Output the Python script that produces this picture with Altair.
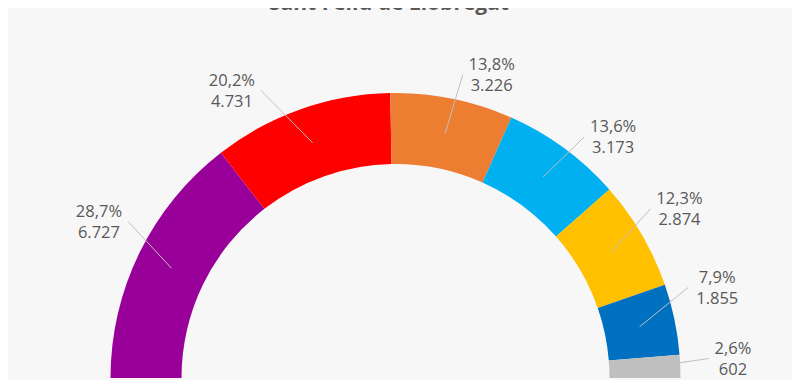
import math
import altair as alt
import pandas as pd

# ---- data -------------------------------------------------------------
parties = ["ECP", "PSC", "Cs", "JxCat", "ERC", "PP", "Altres"]
votes = [6727, 4731, 3226, 3173, 2874, 1855, 602]
percent = [28.7, 20.2, 13.8, 13.6, 12.3, 7.9, 2.6]
colors = ["#990099", "#FF0000", "#ED7D31", "#00B0F0", "#FFC000", "#0070C0", "#BFBFBF"]
title_text = "Sant Feliu de Llobregat"

# ---- label placement (Excel-style moved labels) ------------------------
label_nudge_deg = [1.6, -10.3, 6.2, 5.9, -0.4, -3.7, -0.8]
label_radius = [335, 330, 317, 324, 330, 334, 338]

# ---- layout ------------------------------------------------------------
W, H = 784, 372
CX, CY = 387.5, 370.0          # arc centre in chart pixels
R_OUT, R_IN = 285, 214
R_MID = (R_OUT + R_IN) / 2
LINE_H = 21

total = sum(votes)
rows = []
cum = 0
for i, (p, v, pc) in enumerate(zip(parties, votes, percent)):
    mid = cum + v / 2
    cum += v
    phi = math.radians(mid / total * 180 + label_nudge_deg[i])
    phi_mid = math.radians(mid / total * 180)
    lx = -math.cos(phi) * label_radius[i]
    ly = math.sin(phi) * label_radius[i]
    pct_s = f"{pc:.1f}".replace(".", ",") + "%"
    vot_s = f"{v:,}".replace(",", ".")
    half = 0.5 * max(len(pct_s), len(vot_s)) * 9.6 + 5
    ex = lx - half if lx > 0 else lx + half
    rows.append(dict(
        party=p, votes=v, idx=i,
        label=pct_s + "\n" + vot_s,
        lx=lx, ly=ly, ty=ly + LINE_H / 2,
        ix=-math.cos(phi_mid) * R_MID, iy=math.sin(phi_mid) * R_MID,
        ex=ex, ey=ly + 1,
    ))
df = pd.DataFrame(rows)

xs = alt.Scale(domain=[-CX, W - CX], nice=False, zero=False)
ys = alt.Scale(domain=[CY - H, CY], nice=False, zero=False)

arcs = alt.Chart(df).mark_arc(radius=R_OUT, radius2=R_IN, stroke=None).encode(
    theta=alt.Theta("votes:Q", stack=True,
                    scale=alt.Scale(domain=[0, total], range=[-math.pi / 2, math.pi / 2])),
    color=alt.Color("party:N", scale=alt.Scale(domain=parties, range=colors), legend=None),
    order=alt.Order("idx:Q"),
    x=alt.value(CX),
    y=alt.value(CY),
)

leaders = alt.Chart(df).mark_rule(color="#BFBFBF", strokeWidth=1).encode(
    x=alt.X("ix:Q", scale=xs, axis=None),
    y=alt.Y("iy:Q", scale=ys, axis=None),
    x2="ex:Q",
    y2="ey:Q",
)

labels = alt.Chart(df).mark_text(
    font="Open Sans", fontSize=16.5, color="#595959", lineBreak="\n",
    lineHeight=LINE_H, align="center", baseline="middle",
).encode(
    x=alt.X("lx:Q", scale=xs, axis=None),
    y=alt.Y("ty:Q", scale=ys, axis=None),
    text="label:N",
)

title = alt.Chart(pd.DataFrame({"t": [title_text]})).mark_text(
    font="Open Sans", fontSize=21, fontWeight="bold", color="#595959",
    align="center", baseline="alphabetic",
).encode(x=alt.value(381), y=alt.value(2), text="t:N")

chart = alt.layer(arcs, leaders, labels, title).properties(
    width=W, height=H,
    autosize=alt.AutoSizeParams(type="none"),
    padding=0,
    background="#F7F7F7",
).configure_view(stroke=None)

chart.save("out.html", embed_options={"renderer": "svg", "actions": False})
